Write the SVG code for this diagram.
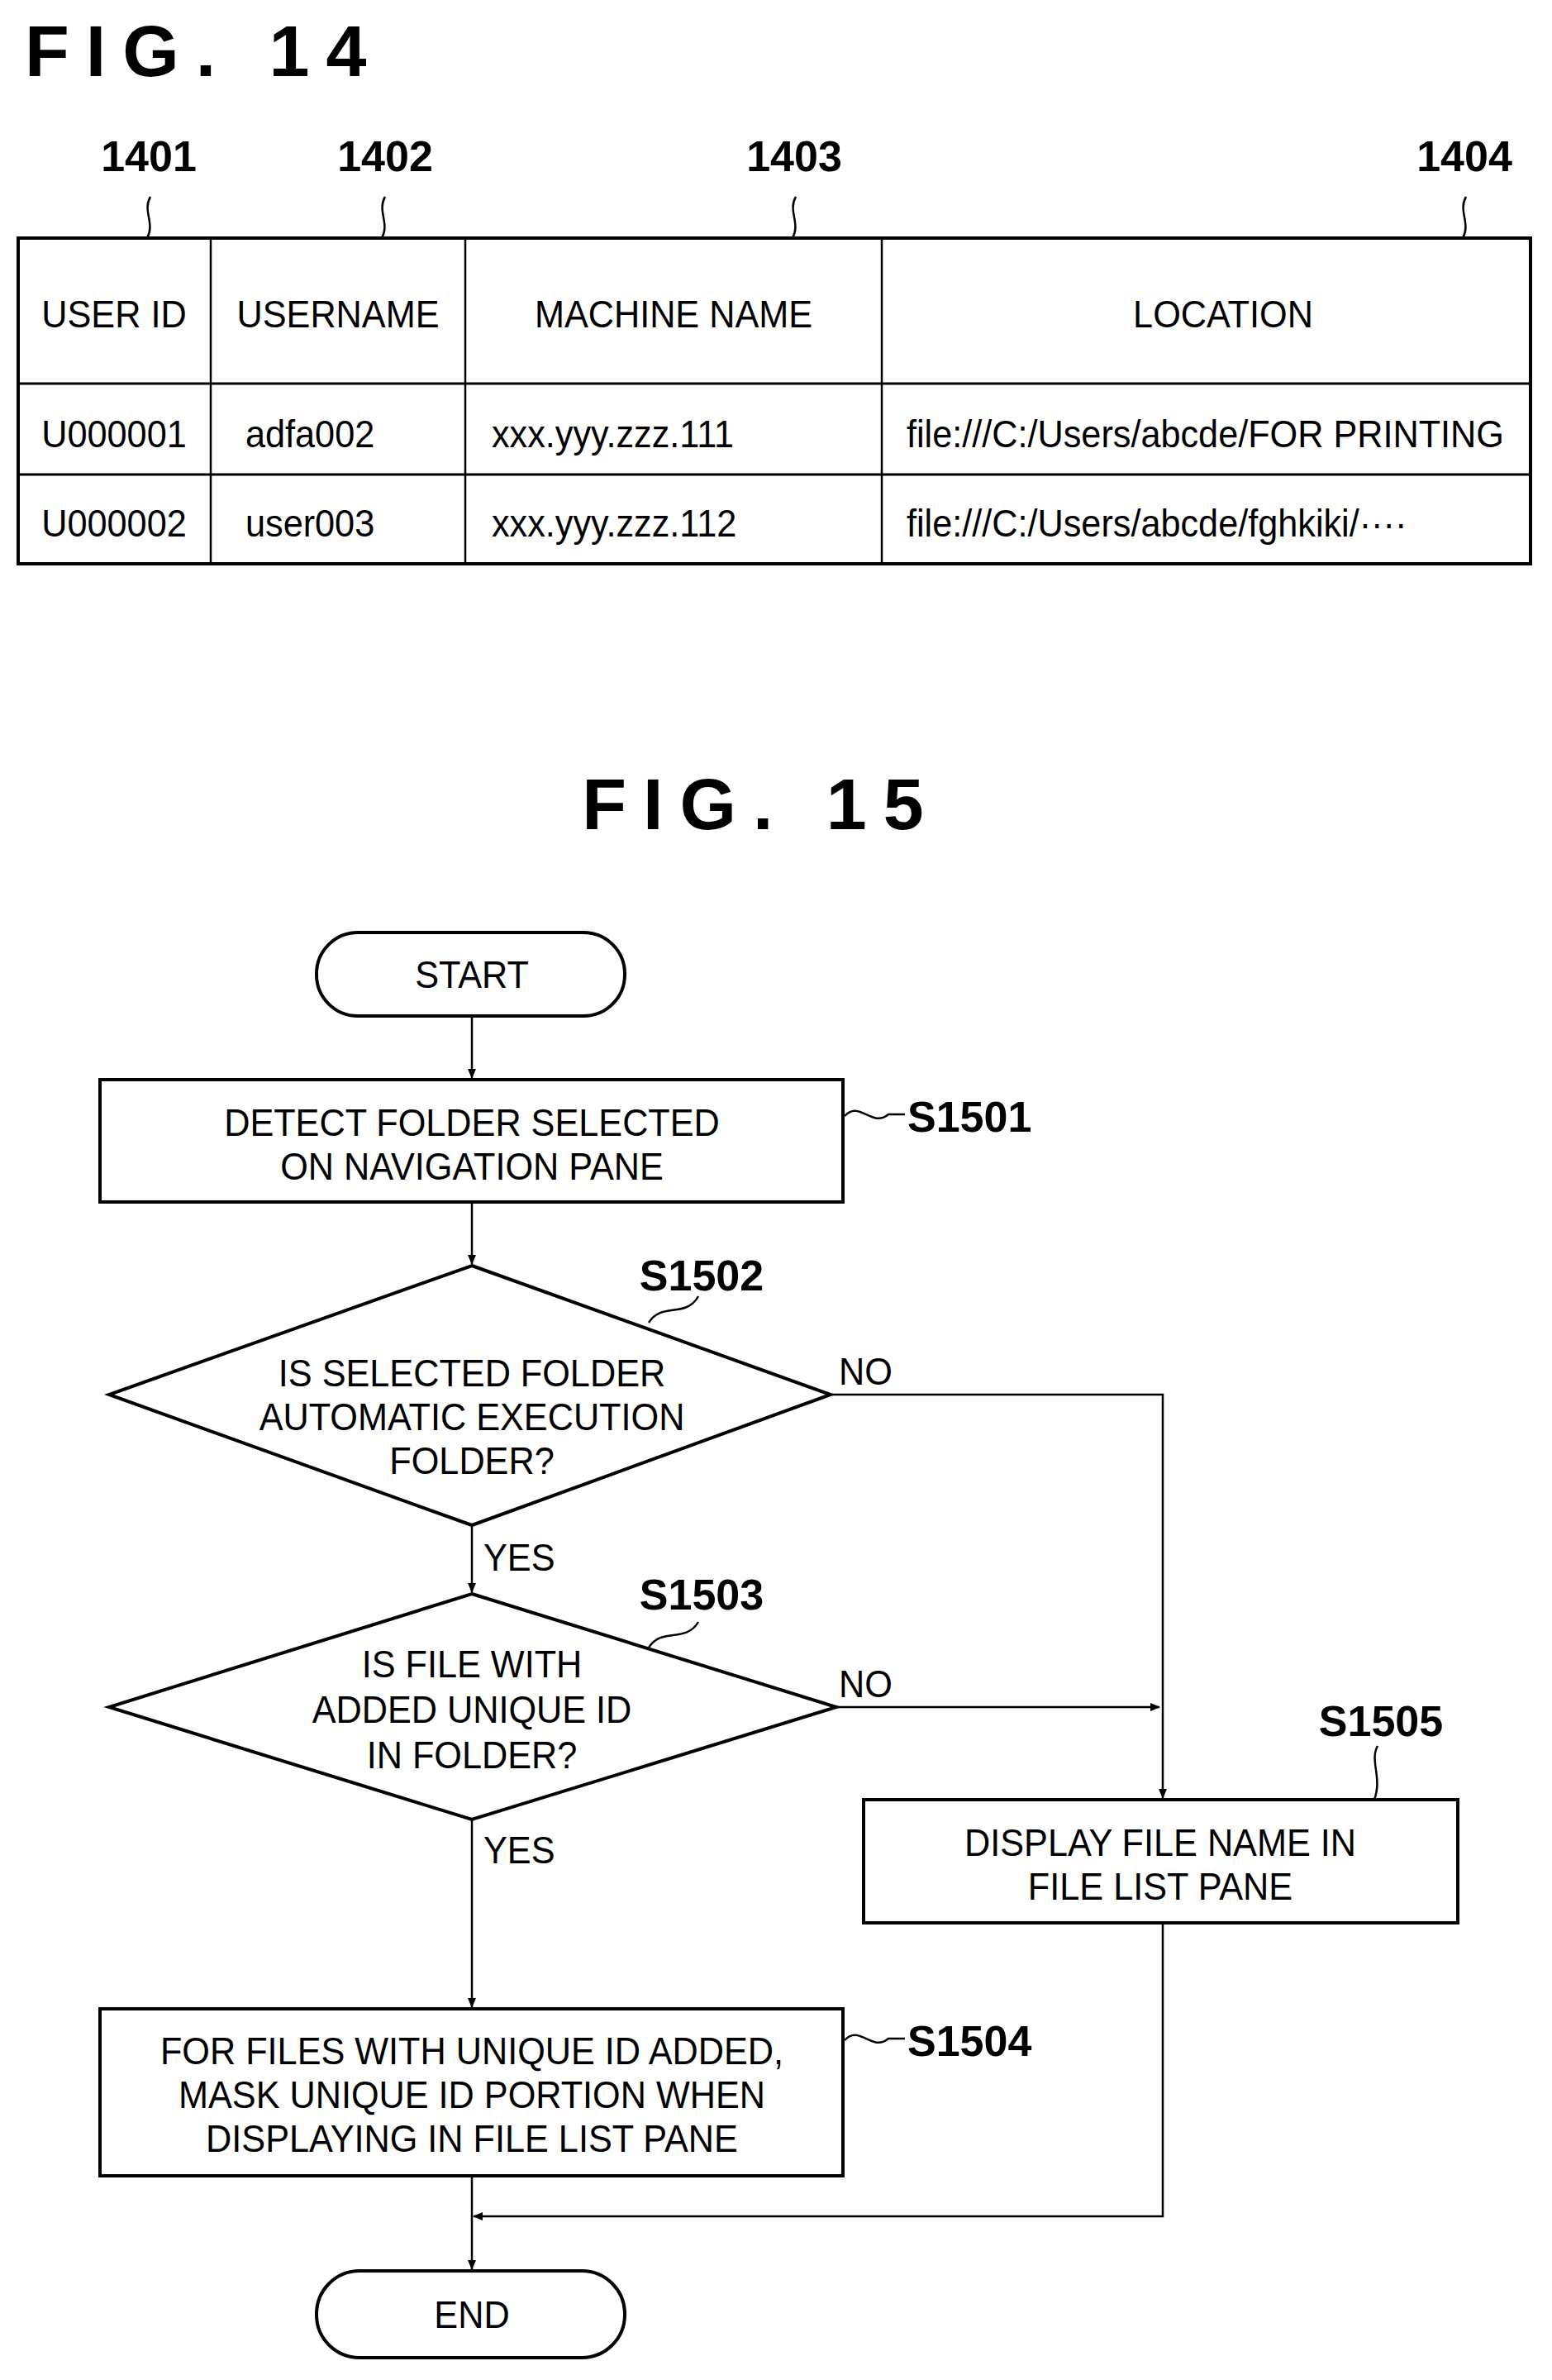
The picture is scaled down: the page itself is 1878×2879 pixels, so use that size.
<svg xmlns="http://www.w3.org/2000/svg" width="1878" height="2879" viewBox="0 0 1878 2879">
<style>
text{font-family:"Liberation Sans",Arial,sans-serif;fill:#000}
.t{font-size:46px;text-anchor:middle}
.tl{font-size:46px}
.lab{font-size:52px;font-weight:bold}
.title{font-size:88px;font-weight:bold;letter-spacing:20px}
.box{fill:#fff;stroke:#000;stroke-width:4}
.ln{fill:none;stroke:#000;stroke-width:2.5}
</style>
<defs>
<marker id="ah" markerWidth="12" markerHeight="12" refX="11" refY="6" orient="auto" markerUnits="userSpaceOnUse" viewBox="0 0 12 12">
<path d="M0,1 L12,6 L0,11 Z" fill="#000"/>
</marker>
</defs>
<text class="title" x="30" y="92">FIG. 14</text>
<g id="table">
<rect class="box" x="22" y="288" width="1830" height="394"/>
<line class="ln" x1="22" y1="464" x2="1852" y2="464" style="stroke-width:3"/>
<line class="ln" x1="22" y1="574" x2="1852" y2="574" style="stroke-width:3"/>
<line class="ln" x1="255" y1="288" x2="255" y2="682"/>
<line class="ln" x1="563" y1="288" x2="563" y2="682"/>
<line class="ln" x1="1067" y1="288" x2="1067" y2="682"/>
<text class="t" x="138" y="396" transform="translate(138 0) scale(0.94 1) translate(-138 0)">USER ID</text>
<text class="t" x="409" y="396" transform="translate(409 0) scale(0.94 1) translate(-409 0)">USERNAME</text>
<text class="t" x="815" y="396" transform="translate(815 0) scale(0.94 1) translate(-815 0)">MACHINE NAME</text>
<text class="t" x="1480" y="396" transform="translate(1480 0) scale(0.94 1) translate(-1480 0)">LOCATION</text>
<text class="t" x="138" y="541" transform="translate(138 0) scale(0.94 1) translate(-138 0)">U000001</text>
<text class="tl" x="297" y="541" transform="translate(297 0) scale(0.94 1) translate(-297 0)">adfa002</text>
<text class="tl" x="595" y="541" transform="translate(595 0) scale(0.94 1) translate(-595 0)">xxx.yyy.zzz.111</text>
<text class="tl" x="1097" y="541" transform="translate(1097 0) scale(0.94 1) translate(-1097 0)">file:///C:/Users/abcde/FOR PRINTING</text>
<text class="t" x="138" y="649" transform="translate(138 0) scale(0.94 1) translate(-138 0)">U000002</text>
<text class="tl" x="297" y="649" transform="translate(297 0) scale(0.94 1) translate(-297 0)">user003</text>
<text class="tl" x="595" y="649" transform="translate(595 0) scale(0.94 1) translate(-595 0)">xxx.yyy.zzz.112</text>
<text class="tl" x="1097" y="649" transform="translate(1097 0) scale(0.94 1) translate(-1097 0)">file:///C:/Users/abcde/fghkiki/····</text>
</g>
<g id="refs">
<text class="lab" x="180" y="207" text-anchor="middle">1401</text>
<text class="lab" x="466" y="207" text-anchor="middle">1402</text>
<text class="lab" x="961" y="207" text-anchor="middle">1403</text>
<text class="lab" x="1772" y="207" text-anchor="middle">1404</text>
<path class="ln" d="M182,238 C172,255 188,270 178,288"/>
<path class="ln" d="M466,238 C456,255 472,270 462,288"/>
<path class="ln" d="M963,238 C953,255 969,270 959,288"/>
<path class="ln" d="M1774,238 C1764,255 1780,270 1770,288"/>
</g>
<text class="title" x="921" y="1003" text-anchor="middle">FIG. 15</text>
<g id="connectors">
<line class="ln" x1="571" y1="1229" x2="571" y2="1304" marker-end="url(#ah)"/>
<line class="ln" x1="571" y1="1454" x2="571" y2="1529" marker-end="url(#ah)"/>
<line class="ln" x1="571" y1="1845" x2="571" y2="1926" marker-end="url(#ah)"/>
<polyline class="ln" points="1005,1687 1407,1687 1407,2175" marker-end="url(#ah)"/>
<line class="ln" x1="1012" y1="2065" x2="1403" y2="2065" marker-end="url(#ah)"/>
<line class="ln" x1="571" y1="2201" x2="571" y2="2428" marker-end="url(#ah)"/>
<polyline class="ln" points="1407,2326 1407,2681 573,2681" marker-end="url(#ah)"/>
<line class="ln" x1="571" y1="2632" x2="571" y2="2745" marker-end="url(#ah)"/>
<text class="tl" x="1015" y="1675" transform="translate(1015 0) scale(0.94 1) translate(-1015 0)">NO</text>
<text class="tl" x="1015" y="2053" transform="translate(1015 0) scale(0.94 1) translate(-1015 0)">NO</text>
<text class="tl" x="585" y="1900" transform="translate(585 0) scale(0.94 1) translate(-585 0)">YES</text>
<text class="tl" x="585" y="2254" transform="translate(585 0) scale(0.94 1) translate(-585 0)">YES</text>
</g>
<g id="start">
<rect class="box" x="383" y="1128" width="373" height="101" rx="50"/>
<text class="t" x="571" y="1195" transform="translate(571 0) scale(0.94 1) translate(-571 0)">START</text>
</g>
<g id="S1501">
<rect class="box" x="121" y="1306" width="899" height="148"/>
<text class="t" x="571" y="1374" transform="translate(571 0) scale(0.94 1) translate(-571 0)">DETECT FOLDER SELECTED</text>
<text class="t" x="571" y="1427" transform="translate(571 0) scale(0.94 1) translate(-571 0)">ON NAVIGATION PANE</text>
<path class="ln" d="M1022,1350 C1040,1330 1055,1365 1075,1348 L1095,1348"/>
<text class="lab" x="1098" y="1369">S1501</text>
</g>
<g id="S1502">
<polygon class="box" points="571,1531 1005,1687 571,1845 132,1687"/>
<text class="t" x="571" y="1677" transform="translate(571 0) scale(0.94 1) translate(-571 0)">IS SELECTED FOLDER</text>
<text class="t" x="571" y="1730" transform="translate(571 0) scale(0.94 1) translate(-571 0)">AUTOMATIC EXECUTION</text>
<text class="t" x="571" y="1783" transform="translate(571 0) scale(0.94 1) translate(-571 0)">FOLDER?</text>
<path class="ln" d="M785,1600 C800,1575 830,1595 845,1568"/>
<text class="lab" x="849" y="1561" text-anchor="middle">S1502</text>
</g>
<g id="S1503">
<polygon class="box" points="571,1928 1012,2065 571,2201 132,2065"/>
<text class="t" x="571" y="2029" transform="translate(571 0) scale(0.94 1) translate(-571 0)">IS FILE WITH</text>
<text class="t" x="571" y="2084" transform="translate(571 0) scale(0.94 1) translate(-571 0)">ADDED UNIQUE ID</text>
<text class="t" x="571" y="2139" transform="translate(571 0) scale(0.94 1) translate(-571 0)">IN FOLDER?</text>
<path class="ln" d="M785,1993 C800,1968 830,1988 845,1962"/>
<text class="lab" x="849" y="1947" text-anchor="middle">S1503</text>
</g>
<g id="S1505">
<rect class="box" x="1045" y="2177" width="719" height="149"/>
<text class="t" x="1404" y="2245" transform="translate(1404 0) scale(0.94 1) translate(-1404 0)">DISPLAY FILE NAME IN</text>
<text class="t" x="1404" y="2298" transform="translate(1404 0) scale(0.94 1) translate(-1404 0)">FILE LIST PANE</text>
<path class="ln" d="M1667,2112 C1657,2130 1673,2150 1663,2177"/>
<text class="lab" x="1671" y="2100" text-anchor="middle">S1505</text>
</g>
<g id="S1504">
<rect class="box" x="121" y="2430" width="899" height="202"/>
<text class="t" x="571" y="2497" transform="translate(571 0) scale(0.94 1) translate(-571 0)">FOR FILES WITH UNIQUE ID ADDED,</text>
<text class="t" x="571" y="2550" transform="translate(571 0) scale(0.94 1) translate(-571 0)">MASK UNIQUE ID PORTION WHEN</text>
<text class="t" x="571" y="2603" transform="translate(571 0) scale(0.94 1) translate(-571 0)">DISPLAYING IN FILE LIST PANE</text>
<path class="ln" d="M1022,2468 C1040,2448 1055,2483 1075,2466 L1095,2466"/>
<text class="lab" x="1098" y="2487">S1504</text>
</g>
<g id="end">
<rect class="box" x="383" y="2747" width="373" height="105" rx="52"/>
<text class="t" x="571" y="2816" transform="translate(571 0) scale(0.94 1) translate(-571 0)">END</text>
</g>
</svg>
